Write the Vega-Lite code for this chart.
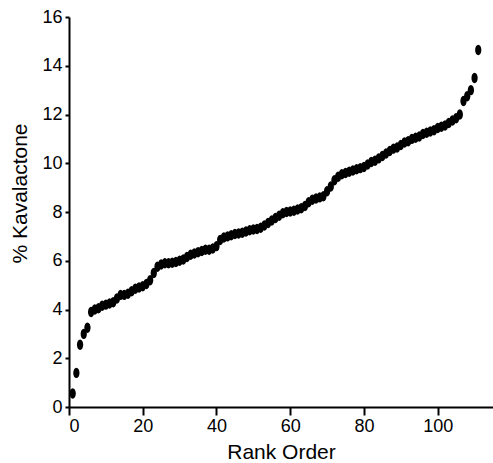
{
  "$schema": "https://vega.github.io/schema/vega-lite/v6.json",
  "autosize": {"type": "none"},
  "padding": {"left": 69, "top": 17, "right": 0, "bottom": 56},
  "width": 424,
  "height": 390,
  "background": "white",
  "config": {
    "view": {"stroke": null},
    "font": "Liberation Sans",
    "axis": {
      "grid": false,
      "domainColor": "black",
      "domainWidth": 2,
      "tickColor": "black",
      "tickWidth": 2,
      "labelColor": "black",
      "titleColor": "black",
      "labelFont": "Liberation Sans",
      "titleFont": "Liberation Sans",
      "labelFontSize": 18,
      "titleFontSize": 21,
      "titleFontWeight": "normal"
    }
  },
  "data": {
    "values": [
      {"rank": 1, "pct": 0.55}, {"rank": 2, "pct": 1.4}, {"rank": 3, "pct": 2.55}, {"rank": 4, "pct": 3.0},
      {"rank": 5, "pct": 3.25}, {"rank": 6, "pct": 3.9}, {"rank": 7, "pct": 4.0}, {"rank": 8, "pct": 4.05},
      {"rank": 9, "pct": 4.15}, {"rank": 10, "pct": 4.2}, {"rank": 11, "pct": 4.25}, {"rank": 12, "pct": 4.3},
      {"rank": 13, "pct": 4.45}, {"rank": 14, "pct": 4.6}, {"rank": 15, "pct": 4.6}, {"rank": 16, "pct": 4.65},
      {"rank": 17, "pct": 4.75}, {"rank": 18, "pct": 4.85}, {"rank": 19, "pct": 4.9}, {"rank": 20, "pct": 4.95},
      {"rank": 21, "pct": 5.05}, {"rank": 22, "pct": 5.2}, {"rank": 23, "pct": 5.5}, {"rank": 24, "pct": 5.75},
      {"rank": 25, "pct": 5.85}, {"rank": 26, "pct": 5.9}, {"rank": 27, "pct": 5.9}, {"rank": 28, "pct": 5.92},
      {"rank": 29, "pct": 5.95}, {"rank": 30, "pct": 6.0}, {"rank": 31, "pct": 6.05}, {"rank": 32, "pct": 6.15},
      {"rank": 33, "pct": 6.25}, {"rank": 34, "pct": 6.3}, {"rank": 35, "pct": 6.35}, {"rank": 36, "pct": 6.4},
      {"rank": 37, "pct": 6.45}, {"rank": 38, "pct": 6.45}, {"rank": 39, "pct": 6.5}, {"rank": 40, "pct": 6.6},
      {"rank": 41, "pct": 6.85}, {"rank": 42, "pct": 6.95}, {"rank": 43, "pct": 7.0}, {"rank": 44, "pct": 7.05},
      {"rank": 45, "pct": 7.1}, {"rank": 46, "pct": 7.12}, {"rank": 47, "pct": 7.15}, {"rank": 48, "pct": 7.2},
      {"rank": 49, "pct": 7.25}, {"rank": 50, "pct": 7.28}, {"rank": 51, "pct": 7.3}, {"rank": 52, "pct": 7.35},
      {"rank": 53, "pct": 7.45}, {"rank": 54, "pct": 7.55}, {"rank": 55, "pct": 7.65}, {"rank": 56, "pct": 7.75},
      {"rank": 57, "pct": 7.85}, {"rank": 58, "pct": 7.95}, {"rank": 59, "pct": 8.0}, {"rank": 60, "pct": 8.02},
      {"rank": 61, "pct": 8.05}, {"rank": 62, "pct": 8.1}, {"rank": 63, "pct": 8.15}, {"rank": 64, "pct": 8.25},
      {"rank": 65, "pct": 8.4}, {"rank": 66, "pct": 8.5}, {"rank": 67, "pct": 8.55}, {"rank": 68, "pct": 8.6},
      {"rank": 69, "pct": 8.65}, {"rank": 70, "pct": 8.85}, {"rank": 71, "pct": 9.05}, {"rank": 72, "pct": 9.3},
      {"rank": 73, "pct": 9.45}, {"rank": 74, "pct": 9.55}, {"rank": 75, "pct": 9.6}, {"rank": 76, "pct": 9.65},
      {"rank": 77, "pct": 9.7}, {"rank": 78, "pct": 9.75}, {"rank": 79, "pct": 9.8}, {"rank": 80, "pct": 9.85},
      {"rank": 81, "pct": 9.95}, {"rank": 82, "pct": 10.05}, {"rank": 83, "pct": 10.1}, {"rank": 84, "pct": 10.2},
      {"rank": 85, "pct": 10.3}, {"rank": 86, "pct": 10.4}, {"rank": 87, "pct": 10.5}, {"rank": 88, "pct": 10.6},
      {"rank": 89, "pct": 10.65}, {"rank": 90, "pct": 10.75}, {"rank": 91, "pct": 10.85}, {"rank": 92, "pct": 10.9},
      {"rank": 93, "pct": 11.0}, {"rank": 94, "pct": 11.05}, {"rank": 95, "pct": 11.1}, {"rank": 96, "pct": 11.2},
      {"rank": 97, "pct": 11.25}, {"rank": 98, "pct": 11.3}, {"rank": 99, "pct": 11.35}, {"rank": 100, "pct": 11.45},
      {"rank": 101, "pct": 11.5}, {"rank": 102, "pct": 11.55}, {"rank": 103, "pct": 11.65}, {"rank": 104, "pct": 11.75},
      {"rank": 105, "pct": 11.85}, {"rank": 106, "pct": 12.0}, {"rank": 107, "pct": 12.55}, {"rank": 108, "pct": 12.75},
      {"rank": 109, "pct": 13.0}, {"rank": 110, "pct": 13.5}, {"rank": 111, "pct": 14.65}
    ]
  },
  "mark": {
    "type": "point",
    "filled": true,
    "color": "black",
    "opacity": 1,
    "size": 110,
    "shape": "M0,-1A0.6,1 0 1,1 0,1A0.6,1 0 1,1 0,-1Z"
  },
  "encoding": {
    "x": {
      "field": "rank",
      "type": "quantitative",
      "scale": {"domain": [0, 115], "nice": false, "zero": true},
      "axis": {
        "title": "Rank Order",
        "values": [0, 20, 40, 60, 80, 100],
        "tickSize": 8,
        "labelPadding": 2,
        "titleY": 55,
        "titleBaseline": "bottom"
      }
    },
    "y": {
      "field": "pct",
      "type": "quantitative",
      "scale": {"domain": [0, 16], "nice": false},
      "axis": {
        "title": "% Kavalactone",
        "values": [0, 2, 4, 6, 8, 10, 12, 14, 16],
        "tickSize": 4,
        "labelPadding": 3,
        "titleAngle": 270,
        "titleAlign": "center",
        "titleBaseline": "middle",
        "titleX": -49,
        "titleY": 176
      }
    }
  }
}
